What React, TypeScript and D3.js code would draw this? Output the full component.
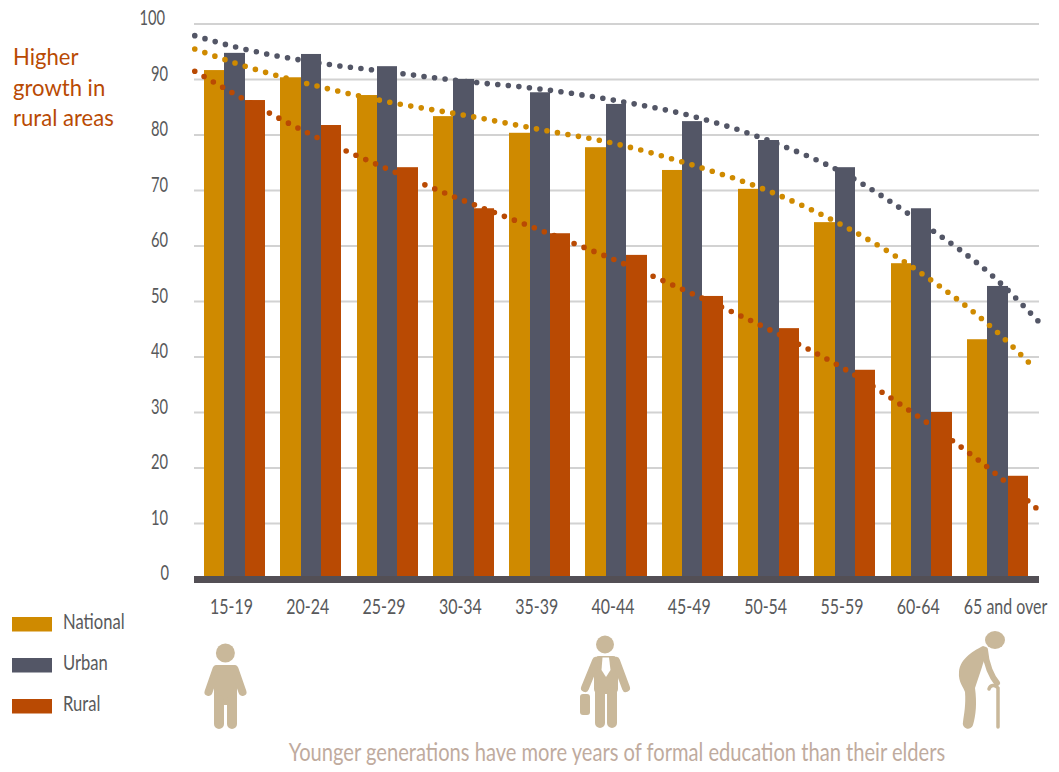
import React from "react";
import * as d3 from "d3";

const categories = ["15-19","20-24","25-29","30-34","35-39","40-44","45-49","50-54","55-59","60-64","65 and over"];
const national = [91.7,90.4,87.2,83.4,80.4,77.8,73.7,70.3,64.3,56.9,43.2];
const urban = [94.8,94.6,92.4,90.1,87.7,85.6,82.5,79.1,74.2,66.8,52.8];
const rural = [86.3,81.8,74.2,66.8,62.3,58.4,51.0,45.2,37.7,30.1,18.6];
const yTicks = [0,10,20,30,40,50,60,70,80,90,100];
// trend lines: category position (0 = first category centre) and value
const urbanPos = [-0.52,0,1,2,3,4,5,6,7,8,9,10,10.53];
const nationalPos = [-0.52,0,1,2,3,4,5,6,7,8,9,10,10.47];
const ruralPos = [-0.52,0,1,2,3,4,5,6,7,8,9,10,10.53];
const urbanTrend = [97.9,95.9,93.2,91.4,89.7,88.3,86.2,83.4,79.0,73.0,64.2,53.8,46.5];
const nationalTrend = [95.5,93.0,89.1,86.0,83.6,81.0,78.4,74.6,69.9,63.5,55.1,44.4,38.2];
const ruralTrend = [91.5,87.4,80.1,73.9,68.2,62.9,57.4,51.4,45.0,37.8,28.9,18.7,12.5];
const legendItems = ["National","Urban","Rural"];
const heading = ["Higher","growth in","rural areas"];
const footer = "Younger generations have more years of formal education than their elders";

const C = { national: "#cf8a00", urban: "#535666", rural: "#b94a03", text: "#58595b", tan: "#c9b89a" };
const FONT = "Lato,'Open Sans',sans-serif";

const y = d3.scaleLinear().domain([0, 100]).range([579, 24]);
const x0 = d3.scaleBand<string>().domain(categories).range([196.3, 1035.7]).paddingInner(0.2).paddingOuter(0.1);
const x1 = d3.scaleBand<string>().domain(legendItems).range([0, x0.bandwidth()]);
const xPos = d3.scaleLinear().domain([0, 10]).range([x0(categories[0])! + x0.bandwidth() / 2, x0(categories[10])! + x0.bandwidth() / 2]);

function T({ x, y: ty, sx = 0.76, size = 21, fill = C.text, anchor = "start", children }: any) {
  return <text transform={`translate(${x},${ty}) scale(${sx},1)`} textAnchor={anchor} fontSize={size} fill={fill}>{children}</text>;
}
function Bars({ values, series, fill }: { values: number[]; series: string; fill: string }) {
  return <g>{values.map((v, i) => {
    const l = x0(categories[i])! + x1(series)!;
    const a = Math.round(l), b = Math.round(l + x1.bandwidth());
    return <rect key={i} x={a} y={y(v)} width={b - a} height={y(0) - y(v)} fill={fill} />;
  })}</g>;
}
function Trend({ values, pos, color, gap }: { values: number[]; pos: number[]; color: string; gap: number }) {
  const line = d3.line<number>().x((_, i) => xPos(pos[i])).y(v => y(v)).curve(d3.curveMonotoneX);
  return <path d={line(values)!} fill="none" stroke={color} strokeWidth={5.6} strokeLinecap="round" strokeDasharray={`0 ${gap}`} />;
}

export default function App() {
  return (
    <svg width={1059} height={772} style={{ position: "absolute", left: 0, top: 0, display: "block", background: "#fff" }} fontFamily={FONT}>
      {yTicks.slice(1).map(t => <line key={t} x1={194} x2={1039} y1={y(t)} y2={y(t)} stroke="#d2d2d2" strokeWidth={2} />)}
      {yTicks.map(t => <T key={t} x={t === 100 ? 165 : t === 0 ? 169 : 168} y={y(t) + 1} sx={0.7} anchor="end">{t}</T>)}
      <Trend values={urbanTrend} pos={urbanPos} color={C.urban} gap={10.6} />
      <Bars values={urban} series="Urban" fill={C.urban} />
      <Trend values={nationalTrend} pos={nationalPos} color={C.national} gap={10.65} />
      <Bars values={national} series="National" fill={C.national} />
      <Trend values={ruralTrend} pos={ruralPos} color={C.rural} gap={10.7} />
      <Bars values={rural} series="Rural" fill={C.rural} />
      <rect x={194} y={576} width={845} height={7} fill="#534f55" />
      {categories.map((c, i) => <T key={c} x={x0(c)! + x0.bandwidth() / 2 + (i === 10 ? 8 : -3)} y={614} anchor="middle">{c}</T>)}
      {heading.map((h, i) => <T key={h} x={13} y={65 + i * 30.5} size={24} sx={0.92} fill={C.rural}>{h}</T>)}
      {legendItems.map((l, i) => (
        <g key={l}>
          <rect x={12} y={617 + i * 41} width={40} height={14.5} fill={[C.national, C.urban, C.rural][i]} />
          <T x={63} y={629 + i * 41} sx={0.79}>{l}</T>
        </g>
      ))}
      <T x={617} y={761} size={25} sx={0.805} anchor="middle" fill="#bfab9e">{footer}</T>

      {/* young person */}
      <g fill={C.tan} stroke="none">
        <circle cx={225.4} cy={653} r={9.5} />
        <rect x={214} y={665} width={23} height={40} rx={4} />
        <path d="M216.5 669L208.5 692M234.5 669L242.5 692" stroke={C.tan} strokeWidth={8} strokeLinecap="round" fill="none" />
        <path d="M219 700V724M232 700V724" stroke={C.tan} strokeWidth={10} strokeLinecap="round" fill="none" />
      </g>
      {/* adult with briefcase */}
      <g fill={C.tan}>
        <circle cx={605} cy={644.5} r={9} />
        <rect x={594} y={656} width={24} height={38} rx={5} />
        <path d="M596 661L585 688M616 661L626 688" stroke={C.tan} strokeWidth={8} strokeLinecap="round" fill="none" />
        <path d="M600 692V723M612 692V723" stroke={C.tan} strokeWidth={10} strokeLinecap="round" fill="none" />
        <rect x={580} y={694} width={10} height={21} rx={3} />
        <path d="M602.5 657.5H609L610.5 670L606 677L601.5 670Z" fill="#fff" />
      </g>
      {/* elder with cane */}
      <g fill={C.tan}>
        <ellipse cx={995} cy={640} rx={10} ry={9} />
        <path d="M983 646C975 650 960 658 959 672C958 682 964 688 965 692C966 705 964 714 963 722A5 5 0 0 0 973 725C976 715 977 703 975 688L982 667C984 660 989 650 986 647Z" />
        <path d="M985 650C986 665 992 677 997 683" stroke={C.tan} strokeWidth={6} strokeLinecap="round" fill="none" />
        <path d="M989 689C990 685 995 684 998 688V727" stroke={C.tan} strokeWidth={3.5} strokeLinecap="round" fill="none" />
      </g>
    </svg>
  );
}
